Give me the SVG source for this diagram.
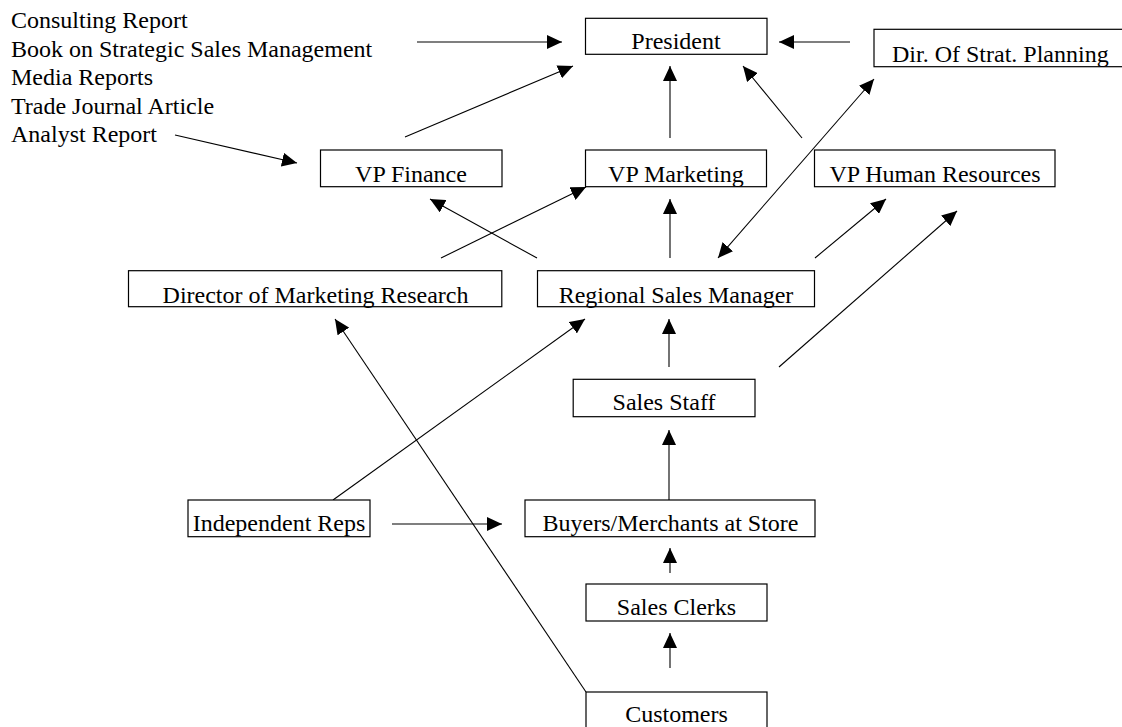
<svg xmlns="http://www.w3.org/2000/svg" width="1122" height="727" viewBox="0 0 1122 727">
<style>
  text { font-family: "Liberation Serif", "Times New Roman", serif; font-size: 24px; fill: #000; }
  .box { fill: #fff; stroke: #000; stroke-width: 1.2; }
  .c { text-anchor: middle; }
  .conn line { stroke: #000; stroke-width: 1.1; fill: none; }
</style>
<defs>
  <marker id="ah" markerUnits="userSpaceOnUse" markerWidth="15" markerHeight="14" refX="15" refY="7" orient="auto">
    <path d="M0,0 L15,7 L0,14 z" fill="#000"/>
  </marker>
  <marker id="ahs" markerUnits="userSpaceOnUse" markerWidth="15" markerHeight="14" refX="0" refY="7" orient="auto">
    <path d="M15,0 L0,7 L15,14 z" fill="#000"/>
  </marker>
</defs>
<rect width="1122" height="727" fill="#fff"/>

<g id="sources">
  <text x="11" y="28">Consulting Report</text>
  <text x="11" y="56.5">Book on Strategic Sales Management</text>
  <text x="11" y="85">Media Reports</text>
  <text x="11" y="113.5">Trade Journal Article</text>
  <text x="11" y="142">Analyst Report</text>
</g>

<g class="conn" id="connectors">
  <line x1="417" y1="42" x2="562" y2="42" marker-end="url(#ah)"/>
  <line x1="850" y1="42" x2="779" y2="42" marker-end="url(#ah)"/>
  <line x1="175" y1="135" x2="297" y2="163" marker-end="url(#ah)"/>
  <line x1="405" y1="137" x2="573" y2="66" marker-end="url(#ah)"/>
  <line x1="670" y1="138" x2="670" y2="66" marker-end="url(#ah)"/>
  <line x1="802" y1="138" x2="743" y2="66" marker-end="url(#ah)"/>
  <line x1="718" y1="258" x2="874" y2="79" marker-start="url(#ahs)" marker-end="url(#ah)"/>
  <line x1="441" y1="258" x2="586" y2="187" marker-end="url(#ah)"/>
  <line x1="537" y1="258" x2="430" y2="199" marker-end="url(#ah)"/>
  <line x1="670" y1="258" x2="670" y2="199" marker-end="url(#ah)"/>
  <line x1="815" y1="258" x2="886" y2="199" marker-end="url(#ah)"/>
  <line x1="779" y1="367" x2="957" y2="211" marker-end="url(#ah)"/>
  <line x1="669" y1="367" x2="669" y2="319" marker-end="url(#ah)"/>
  <line x1="586" y1="692" x2="335" y2="319" marker-end="url(#ah)"/>
  <line x1="333" y1="500" x2="585" y2="319" marker-end="url(#ah)"/>
  <line x1="392" y1="524" x2="502" y2="524" marker-end="url(#ah)"/>
  <line x1="669" y1="500" x2="669" y2="430" marker-end="url(#ah)"/>
  <line x1="670" y1="573" x2="670" y2="548" marker-end="url(#ah)"/>
  <line x1="670" y1="668" x2="670" y2="633" marker-end="url(#ah)"/>
</g>

<g id="president"><rect class="box" x="585.5" y="18.3" width="181.5" height="36"/><text class="c" x="676" y="49">President</text></g>
<g id="dir-strat"><rect class="box" x="874" y="29.3" width="250" height="37.4"/><text x="892" y="62">Dir. Of Strat. Planning</text></g>
<g id="vp-finance"><rect class="box" x="320.5" y="150" width="181.5" height="36.7"/><text class="c" x="411" y="181.5">VP Finance</text></g>
<g id="vp-marketing"><rect class="box" x="585.5" y="150" width="181" height="36.7"/><text class="c" x="676" y="181.5">VP Marketing</text></g>
<g id="vp-hr"><rect class="box" x="814.5" y="150" width="240.5" height="36.7"/><text class="c" x="935" y="181.5">VP Human Resources</text></g>
<g id="dir-mr"><rect class="box" x="128.5" y="270.7" width="373.3" height="36"/><text class="c" x="315.5" y="302.7">Director of Marketing Research</text></g>
<g id="rsm"><rect class="box" x="537.5" y="270.7" width="277" height="36"/><text class="c" x="676" y="302.7">Regional Sales Manager</text></g>
<g id="sales-staff"><rect class="box" x="573.2" y="379.3" width="181.8" height="37.4"/><text class="c" x="664" y="410">Sales Staff</text></g>
<g id="indep-reps"><rect class="box" x="188" y="500" width="182" height="36.7"/><text class="c" x="279" y="530.7">Independent Reps</text></g>
<g id="buyers"><rect class="box" x="525" y="500" width="290" height="36.7"/><text class="c" x="670.5" y="530.7">Buyers/Merchants at Store</text></g>
<g id="sales-clerks"><rect class="box" x="586" y="584" width="181" height="37"/><text class="c" x="676.5" y="615">Sales Clerks</text></g>
<g id="customers"><rect class="box" x="586" y="692" width="181" height="40"/><text class="c" x="676.5" y="722">Customers</text></g>
</svg>
